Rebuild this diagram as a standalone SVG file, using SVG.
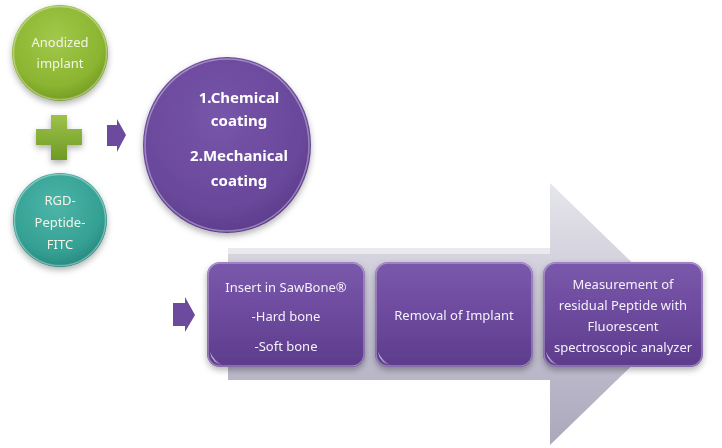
<svg xmlns="http://www.w3.org/2000/svg" width="722" height="448" viewBox="0 0 722 448">
<defs>
  <linearGradient id="gArrow" x1="0" y1="0" x2="0" y2="1">
    <stop offset="0" stop-color="#e6e6ec"/>
    <stop offset="0.5" stop-color="#c6c4d3"/>
    <stop offset="1" stop-color="#aba8bc"/>
  </linearGradient>
  <linearGradient id="gPurple" x1="0" y1="0" x2="0" y2="1">
    <stop offset="0" stop-color="#7a58ab"/>
    <stop offset="0.5" stop-color="#6c4a9d"/>
    <stop offset="1" stop-color="#5d3c8c"/>
  </linearGradient>
  <radialGradient id="gCircle" cx="0.45" cy="0.35" r="0.7">
    <stop offset="0" stop-color="#7655a8"/>
    <stop offset="0.7" stop-color="#6a499c"/>
    <stop offset="1" stop-color="#5a3a88"/>
  </radialGradient>
  <radialGradient id="gGreen" cx="0.45" cy="0.35" r="0.7">
    <stop offset="0" stop-color="#a2c84a"/>
    <stop offset="0.7" stop-color="#8bb531"/>
    <stop offset="1" stop-color="#6f9520"/>
  </radialGradient>
  <radialGradient id="gTeal" cx="0.45" cy="0.35" r="0.7">
    <stop offset="0" stop-color="#4cb5a8"/>
    <stop offset="0.7" stop-color="#35a094"/>
    <stop offset="1" stop-color="#24837a"/>
  </radialGradient>
  <linearGradient id="gPlus" x1="0" y1="0" x2="0" y2="1">
    <stop offset="0" stop-color="#9cc34a"/>
    <stop offset="1" stop-color="#6f9a25"/>
  </linearGradient>
  <linearGradient id="gGlint" x1="0" y1="0" x2="1" y2="1">
    <stop offset="0" stop-color="#ffffff" stop-opacity="0.9"/>
    <stop offset="1" stop-color="#ffffff" stop-opacity="0"/>
  </linearGradient>
  <filter id="shadow" x="-20%" y="-20%" width="140%" height="150%">
    <feDropShadow dx="0" dy="3" stdDeviation="3" flood-color="#000" flood-opacity="0.3"/>
  </filter>
</defs>
<style>
  .t { font-family: "Noto Sans", "Open Sans", sans-serif; font-size: 13px; fill: #f4f0fa; text-anchor: middle; }
  .tb { font-family: "Noto Sans", "Open Sans", sans-serif; font-size: 15px; font-weight: bold; fill: #ffffff; text-anchor: middle; }
  .tc { font-family: "Noto Sans", "Open Sans", sans-serif; font-size: 13px; fill: #f2f4e8; text-anchor: middle; }
  .rim { fill: none; stroke: #ffffff; stroke-opacity: 0.35; stroke-width: 1.5; }
</style>

<g id="big-arrow">
  <polygon points="228,248 550,248 550,183 685,314 550,445 550,380 228,380" fill="url(#gArrow)"/>
  <rect x="228" y="248" width="322" height="6" fill="#f2f2f4" opacity="0.7"/>
</g>

<g id="anodized-implant" filter="url(#shadow)">
  <circle cx="60" cy="53" r="48" fill="url(#gGreen)"/>
  <circle cx="60" cy="53" r="46.5" class="rim"/>
  <text class="tc" x="60" y="47">Anodized</text>
  <text class="tc" x="60" y="68">implant</text>
</g>

<g id="plus" filter="url(#shadow)">
  <path d="M51,115 H67 V129 H82 V145 H67 V160 H51 V145 H36 V129 H51 Z" fill="url(#gPlus)"/>
</g>

<g id="rgd-peptide" filter="url(#shadow)">
  <circle cx="60" cy="220" r="47" fill="url(#gTeal)"/>
  <circle cx="60" cy="220" r="45.5" class="rim"/>
  <text class="tc" x="60" y="205">RGD-</text>
  <text class="tc" x="60" y="227">Peptide-</text>
  <text class="tc" x="60" y="249">FITC</text>
</g>

<g id="connectors" fill="#6c4a9d">
  <polygon points="107,125 117,125 117,119 126,135 117,152 117,146 107,146"/>
  <polygon points="173,303 185,303 185,297 195,315 185,332 185,326 173,326"/>
</g>

<g id="coating" filter="url(#shadow)">
  <ellipse cx="227" cy="145" rx="84" ry="88" fill="url(#gCircle)"/>
  <ellipse cx="227" cy="145" rx="82" ry="86" class="rim"/>
  <text class="tb" x="239" y="103">1.Chemical</text>
  <text class="tb" x="239" y="126">coating</text>
  <text class="tb" x="239" y="161">2.Mechanical</text>
  <text class="tb" x="239" y="186">coating</text>
</g>

<g id="insert" filter="url(#shadow)">
  <rect x="207" y="262" width="158" height="105" rx="13" fill="url(#gPurple)"/>
  <rect x="208" y="263" width="156" height="103" rx="12" class="rim"/>
  <path d="M210,352 Q212,364 224,366 Q213,360 210,352 Z" fill="url(#gGlint)"/>
  <text class="t" x="286" y="292">Insert in SawBone®</text>
  <text class="t" x="286" y="321">-Hard bone</text>
  <text class="t" x="286" y="351">-Soft bone</text>
</g>

<g id="removal" filter="url(#shadow)">
  <rect x="375" y="262" width="158" height="105" rx="13" fill="url(#gPurple)"/>
  <rect x="376" y="263" width="156" height="103" rx="12" class="rim"/>
  <path d="M378,352 Q380,364 392,366 Q381,360 378,352 Z" fill="url(#gGlint)"/>
  <text class="t" x="454" y="320">Removal of Implant</text>
</g>

<g id="measurement" filter="url(#shadow)">
  <rect x="543" y="262" width="160" height="105" rx="13" fill="url(#gPurple)"/>
  <rect x="544" y="263" width="158" height="103" rx="12" class="rim"/>
  <path d="M546,352 Q548,364 560,366 Q549,360 546,352 Z" fill="url(#gGlint)"/>
  <text class="t" x="623" y="289">Measurement of</text>
  <text class="t" x="623" y="310">residual Peptide with</text>
  <text class="t" x="623" y="331">Fluorescent</text>
  <text class="t" x="623" y="352">spectroscopic analyzer</text>
</g>
</svg>
